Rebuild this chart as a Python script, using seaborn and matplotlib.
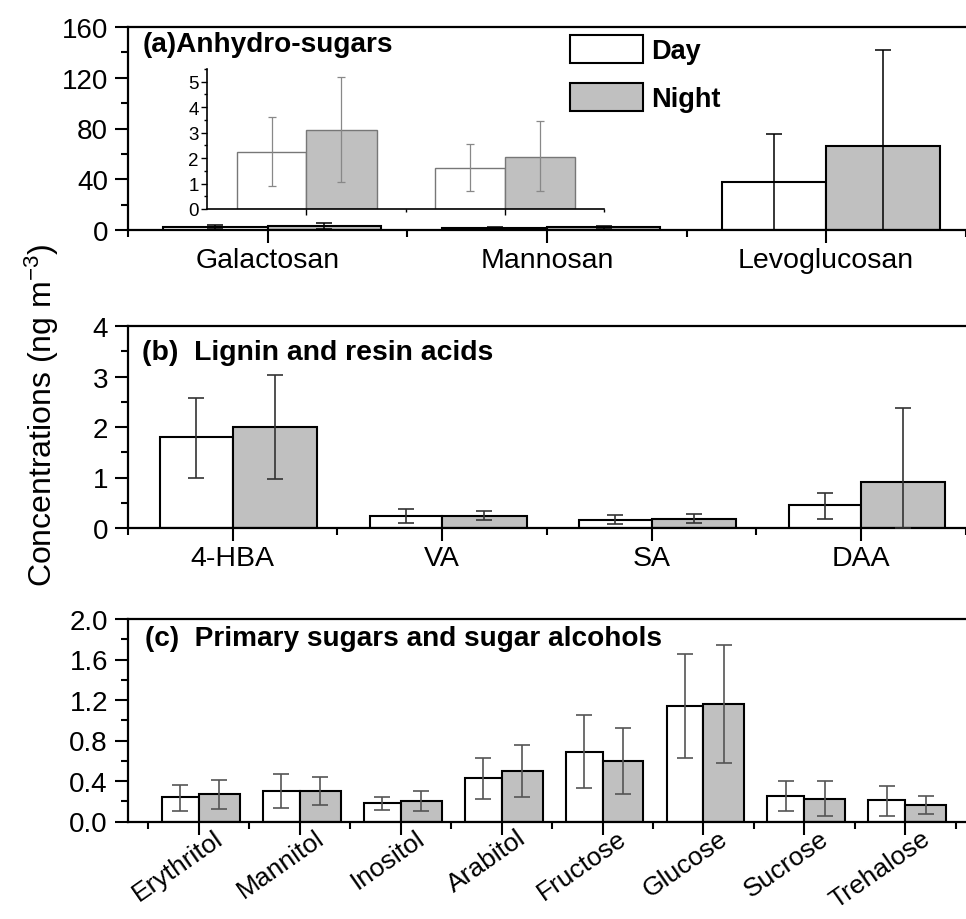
import matplotlib
matplotlib.use('Agg')
import matplotlib.pyplot as plt
import matplotlib.transforms as mtransforms
import seaborn as sns
import pandas as pd
import numpy as np
from matplotlib.patches import Patch
from matplotlib.ticker import MultipleLocator, FixedLocator, FormatStrFormatter

# ---------------- data ----------------
periods = ['Day', 'Night']

anhydro_cats = ['Galactosan', 'Mannosan', 'Levoglucosan']
anhydro_day = [2.25, 1.6, 38.0]
anhydro_day_lo = [0.9, 0.7, 0.0]
anhydro_day_hi = [3.6, 2.55, 76.0]
anhydro_night = [3.1, 2.05, 66.0]
anhydro_night_lo = [1.05, 0.7, 0.0]
anhydro_night_hi = [5.2, 3.45, 142.0]

inset_cats = ['Galactosan', 'Mannosan']
inset_day = [2.25, 1.6]
inset_day_lo = [0.9, 0.7]
inset_day_hi = [3.6, 2.55]
inset_night = [3.1, 2.05]
inset_night_lo = [1.05, 0.7]
inset_night_hi = [5.2, 3.45]

lignin_cats = ['4-HBA', 'VA', 'SA', 'DAA']
lignin_day = [1.8, 0.23, 0.16, 0.45]
lignin_day_lo = [1.0, 0.1, 0.07, 0.18]
lignin_day_hi = [2.57, 0.38, 0.25, 0.70]
lignin_night = [2.0, 0.23, 0.18, 0.91]
lignin_night_lo = [0.98, 0.15, 0.1, 0.0]
lignin_night_hi = [3.02, 0.33, 0.28, 2.38]

sugar_cats = ['Erythritol', 'Mannitol', 'Inositol', 'Arabitol',
              'Fructose', 'Glucose', 'Sucrose', 'Trehalose']
sugar_day = [0.24, 0.30, 0.18, 0.43, 0.69, 1.14, 0.25, 0.21]
sugar_day_lo = [0.10, 0.13, 0.11, 0.22, 0.33, 0.63, 0.10, 0.055]
sugar_day_hi = [0.36, 0.47, 0.245, 0.63, 1.05, 1.65, 0.40, 0.35]
sugar_night = [0.27, 0.30, 0.20, 0.50, 0.60, 1.16, 0.225, 0.165]
sugar_night_lo = [0.12, 0.16, 0.10, 0.24, 0.27, 0.58, 0.055, 0.07]
sugar_night_hi = [0.41, 0.44, 0.30, 0.76, 0.92, 1.74, 0.40, 0.255]

DAY_COLOR = 'white'
NIGHT_COLOR = '#c0c0c0'

# ---------------- style ----------------
sns.set_style('ticks')
plt.rcParams['font.family'] = ['Liberation Sans', 'DejaVu Sans']
plt.rcParams['mathtext.default'] = 'regular'
for key in ['text.color', 'axes.labelcolor', 'xtick.color', 'ytick.color',
            'axes.edgecolor']:
    plt.rcParams[key] = 'black'

W_PX, H_PX = 966, 920
fig = plt.figure(figsize=(W_PX / 100, H_PX / 100), dpi=100)


def px_axes(left, top, right, bottom):
    return fig.add_axes([left / W_PX, 1 - bottom / H_PX,
                         (right - left) / W_PX, (bottom - top) / H_PX])


def bars(ax, cats, day, night, dlo, dhi, nlo, nhi, wday, wnight, edge, lw,
         ecolor, elw, cap):
    df = pd.DataFrame({
        'Category': cats + cats,
        'Period': [periods[0]] * len(cats) + [periods[1]] * len(cats),
        'Value': day + night,
    })
    sns.barplot(data=df, x='Category', y='Value', hue='Period', order=cats,
                hue_order=periods,
                palette={periods[0]: DAY_COLOR, periods[1]: NIGHT_COLOR},
                saturation=1, width=0.8, gap=0, errorbar=None,
                edgecolor=edge, linewidth=lw, legend=False, ax=ax, zorder=2)
    conts = list(ax.containers)[:2]
    # day bar sits left of the category centre, night bar right of it
    for p in conts[0]:
        c = p.get_x() + p.get_width()
        p.set_x(c - wday)
        p.set_width(wday)
    for p in conts[1]:
        p.set_width(wnight)
    for cont, vals, lo, hi in zip(conts, [day, night], [dlo, nlo], [dhi, nhi]):
        xs = [p.get_x() + p.get_width() / 2 for p in cont]
        v = np.array(vals)
        ax.errorbar(xs, v, yerr=[v - np.array(lo), np.array(hi) - v],
                    fmt='none', ecolor=ecolor, elinewidth=elw, capsize=cap,
                    capthick=elw, zorder=3)
    ax.set_xlabel('')
    ax.set_ylabel('')


def style(ax, n, xlim, ymax, major, minor, fmt=None):
    ax.set_xlim(*xlim)
    ax.set_ylim(0, ymax)
    ax.yaxis.set_major_locator(MultipleLocator(major))
    ax.yaxis.set_minor_locator(MultipleLocator(minor))
    if fmt:
        ax.yaxis.set_major_formatter(FormatStrFormatter(fmt))
    ax.xaxis.set_minor_locator(FixedLocator(np.arange(-0.5, n, 1.0)))
    ax.spines['right'].set_visible(False)
    for s in ['left', 'bottom', 'top']:
        ax.spines[s].set_linewidth(1.6)
        ax.spines[s].set_color('black')
    ax.tick_params(which='major', direction='out', length=9.4, width=1.5,
                   labelsize=20, pad=5.0, color='black', labelcolor='black')
    ax.tick_params(which='minor', direction='out', length=5, width=1.5,
                   color='black')
    ax.tick_params(axis='x', which='major', labelsize=20.5, pad=3.0)


# ---------------- panel (a) ----------------
ax_a = px_axes(128, 28, 970, 231)
bars(ax_a, anhydro_cats, anhydro_day, anhydro_night, anhydro_day_lo,
     anhydro_day_hi, anhydro_night_lo, anhydro_night_hi, 0.374, 0.406,
     edge='black', lw=1.5, ecolor='black', elw=1.1, cap=6)
style(ax_a, 3, (-0.5, 2.515), 160, 40, 20)
ax_a.text(0.0178, 0.882, '(a)Anhydro-sugars', transform=ax_a.transAxes,
          fontsize=20.2, fontweight='bold', va='baseline', ha='left')

handles = [Patch(facecolor=DAY_COLOR, edgecolor='black', linewidth=1.5),
           Patch(facecolor=NIGHT_COLOR, edgecolor='black', linewidth=1.5)]
leg = ax_a.legend(handles, periods, loc='upper left',
                  bbox_to_anchor=(570 / W_PX, 1 - 36 / H_PX),
                  bbox_transform=fig.transFigure, frameon=False,
                  prop={'weight': 'bold', 'size': 19.5},
                  handlelength=2.7, handleheight=1.22, handletextpad=0.3,
                  labelspacing=0.68, borderpad=0, borderaxespad=0)

# inset
ax_i = px_axes(207, 70, 604, 210)
bars(ax_i, inset_cats, inset_day, inset_night, inset_day_lo, inset_day_hi,
     inset_night_lo, inset_night_hi, 0.35, 0.355, edge='#777777', lw=1.0,
     ecolor='#888888', elw=0.9, cap=3)
ax_i.set_xlim(-0.5, 1.5)
ax_i.set_ylim(0, 5.5)
ax_i.set_facecolor('none')
ax_i.yaxis.set_major_locator(MultipleLocator(1))
ax_i.yaxis.set_minor_locator(MultipleLocator(0.5))
ax_i.xaxis.set_minor_locator(FixedLocator([0.5, 1.5]))
ax_i.set_xticklabels([])
for s in ['top', 'right']:
    ax_i.spines[s].set_visible(False)
for s in ['left', 'bottom']:
    ax_i.spines[s].set_linewidth(1.2)
    ax_i.spines[s].set_color('black')
ax_i.tick_params(which='major', direction='out', length=4, width=1.0,
                 labelsize=13.5, pad=2, color='black')
ax_i.tick_params(which='minor', direction='out', length=2.5, width=1.0,
                 color='black')

# ---------------- panel (b) ----------------
ax_b = px_axes(128, 327, 970, 529)
bars(ax_b, lignin_cats, lignin_day, lignin_night, lignin_day_lo,
     lignin_day_hi, lignin_night_lo, lignin_night_hi, 0.346, 0.403,
     edge='black', lw=1.5, ecolor='#333333', elw=1.2, cap=6)
style(ax_b, 4, (-0.5, 3.52), 4, 1, 0.5)
ax_b.text(0.0166, 0.837, '(b)  Lignin and resin acids', transform=ax_b.transAxes,
          fontsize=20.4, fontweight='bold', va='baseline', ha='left')

# ---------------- panel (c) ----------------
ax_c = px_axes(128, 620, 970, 822.5)
bars(ax_c, sugar_cats, sugar_day, sugar_night, sugar_day_lo, sugar_day_hi,
     sugar_night_lo, sugar_night_hi, 0.366, 0.406, edge='black', lw=1.5,
     ecolor='#555555', elw=1.2, cap=6)
style(ax_c, 8, (-0.7, 7.64), 2.0, 0.4, 0.2, '%.1f')
ax_c.text(0.0202, 0.872, '(c)  Primary sugars and sugar alcohols',
          transform=ax_c.transAxes, fontsize=20.2, fontweight='bold',
          va='baseline', ha='left')
ax_c.tick_params(axis='x', which='major', pad=0, labelsize=19)
offset = mtransforms.ScaledTranslation(15 / 100, 9 / 100, fig.dpi_scale_trans)
for lab in ax_c.get_xticklabels():
    lab.set_rotation(35)
    lab.set_ha('right')
    lab.set_va('top')
    lab.set_rotation_mode('anchor')
    lab.set_transform(lab.get_transform() + offset)

# ---------------- y label ----------------
fig.text(42 / W_PX, 1 - 415 / H_PX, 'Concentrations (ng m$^{-3}$)',
         rotation=90, ha='center', va='center', fontsize=23)

fig.savefig('out.png', dpi=100)
